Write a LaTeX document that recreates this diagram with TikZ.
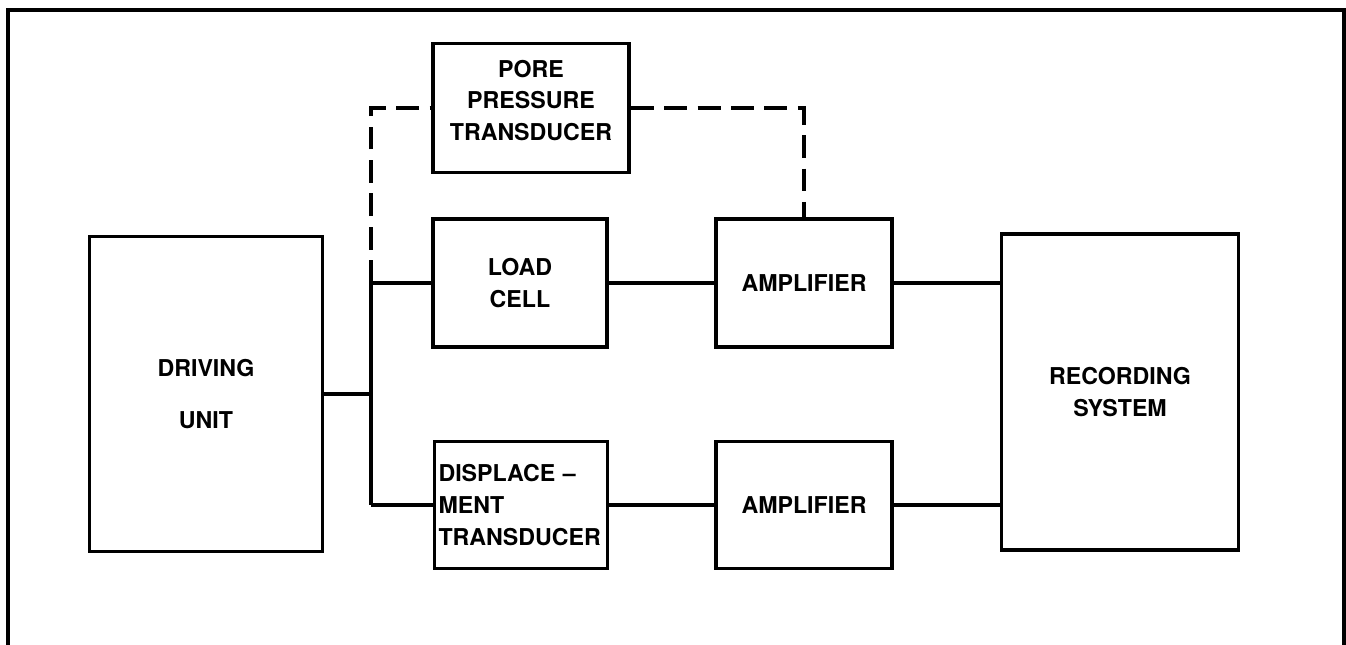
\documentclass[tikz,border=0pt]{standalone}
\usepackage{fontspec}
\setsansfont{TeX Gyre Heros}
\usepackage{tikz}
\usetikzlibrary{positioning, calc}

\begin{document}
\begin{tikzpicture}[x=0.02cm, y=-0.02cm,
    bx/.style={draw, line width=2.2pt, inner sep=3pt, align=center,
        font=\sffamily\bfseries\fontsize{13.2}{18}\selectfont},
    ln/.style={line width=2.2pt},
    dl/.style={line width=2.2pt, dash pattern=on 13pt off 6pt}]
    \useasboundingbox (0,0) rectangle (1346,645);
    \draw[ln] (8,645) -- (8,10) -- (1344,10) -- (1344,645);
    \node[bx, minimum width=4.66cm, minimum height=6.3cm] (drv) at (206,394) {DRIVING\\[12pt]UNIT};
    \node[bx, minimum width=3.92cm, minimum height=2.58cm] (pore) at (531,108) {PORE\\PRESSURE\\TRANSDUCER\\[-9pt]\mbox{}};
    \node[bx, minimum width=3.48cm, minimum height=2.56cm] (load) at (520,283) {LOAD\\CELL};
    \node[bx, minimum width=3.52cm, minimum height=2.56cm] (amp1) at (804,283) {AMPLIFIER};
    \node[bx, minimum width=3.46cm, minimum height=2.54cm, inner xsep=2pt, text width=3.3cm, align=left] (disp) at (521,505) {DISPLACE --\\MENT\\TRANSDUCER};
    \node[bx, minimum width=3.52cm, minimum height=2.54cm] (amp2) at (804,505) {AMPLIFIER};
    \node[bx, minimum width=4.74cm, minimum height=6.32cm] (rec) at (1120,392) {RECORDING\\SYSTEM};
    \coordinate (bus) at (371,394);
    \coordinate (busT) at (371,283);
    \coordinate (busB) at (371,505);
    \draw[ln] (drv.east) -- (bus);
    \draw[ln] (busT) -- (busB);
    \foreach \i/\j in {busT/load.west, busB/disp.west, load.east/amp1.west, disp.east/amp2.west} {
        \draw[ln] (\i) -- (\j);
    }
    \draw[ln] (amp1.east) -- (amp1.east -| rec.west);
    \draw[ln] (amp2.east) -- (amp2.east -| rec.west);
    \draw[dl] (busT) |- (pore.west);
    \draw[dl] (pore.east) -| (amp1.north);
\end{tikzpicture}
\end{document}
